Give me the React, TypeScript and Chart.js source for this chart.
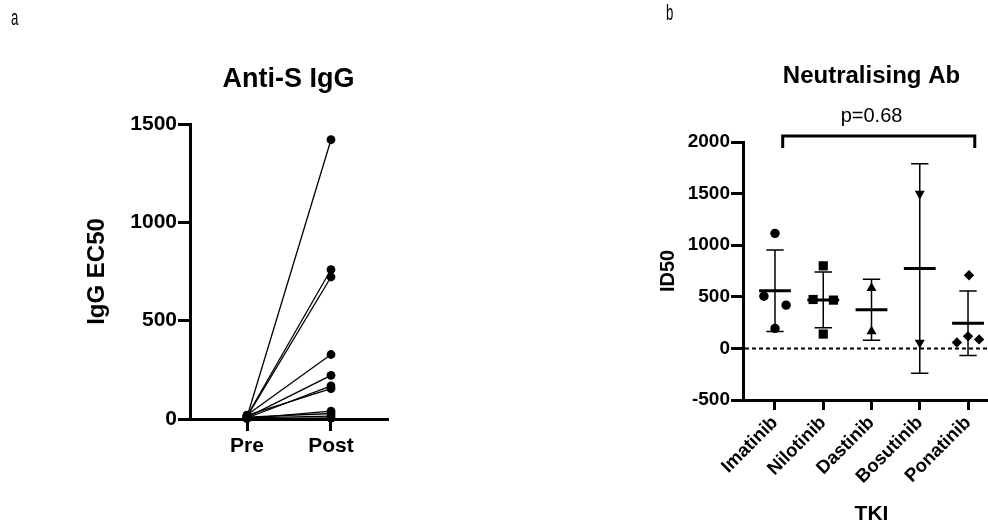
import { useEffect, useRef } from 'react';
import { Chart, registerables } from 'chart.js';

Chart.register(...registerables);

const FONT = "'Liberation Sans', Arial, Helvetica, sans-serif";

// ---- Panel a: Anti-S IgG ----
const timepoints = ['Pre', 'Post'];
const preIgG = [10, 15, 12, 20, 8, 5, 18, 3, 10, 6, 2];
const postIgG = [1420, 760, 722, 328, 222, 168, 155, 40, 28, 15, 5];

// ---- Panel b: Neutralising Ab ----
const tkis = ['Imatinib', 'Nilotinib', 'Dastinib', 'Bosutinib', 'Ponatinib'];
const imatinibID50 = [1115, 506, 419, 194];
const nilotinibID50 = [800, 474, 468, 139];
const dastinibID50 = [585, 165];
const bosutinibID50 = [1500, 55];
const ponatinibID50 = [709, 117, 87, 58];
const id50Mean = [558, 470, 375, 775, 243];
const id50SD = [395, 270, 295, 1015, 312];
const pValueText = 'p=0.68';

const WIDE = 1010;

export default function App() {
  const refA = useRef<HTMLCanvasElement | null>(null);
  const refB = useRef<HTMLCanvasElement | null>(null);

  useEffect(() => {
    const black = '#000';
    const tickFont = (size: number) => ({ family: FONT, size, weight: 'bold' as const });

    const panelLetter = (ctx: CanvasRenderingContext2D, letter: string, x: number, y: number) => {
      ctx.save();
      ctx.translate(x, y);
      ctx.scale(0.6, 1);
      ctx.font = `22px ${FONT}`;
      ctx.textAlign = 'left';
      ctx.textBaseline = 'alphabetic';
      ctx.fillStyle = black;
      ctx.fillText(letter, 0, 0);
      ctx.restore();
    };

    // ---------- Chart A ----------
    const dsA = preIgG.map((p, i) => ({
      data: [
        { x: 0, y: p },
        { x: 1, y: postIgG[i] },
      ],
      showLine: true,
      borderColor: black,
      borderWidth: 1.3,
      pointRadius: 4.4,
      pointBackgroundColor: black,
      pointBorderWidth: 0,
      clip: false as const,
    }));

    const pluginA = {
      id: 'panelA',
      afterDraw(chart: any) {
        const { ctx, chartArea } = chart;
        ctx.save();
        ctx.fillStyle = black;
        ctx.textAlign = 'center';
        ctx.textBaseline = 'alphabetic';
        ctx.font = `bold 27px ${FONT}`;
        ctx.fillText('Anti-S IgG', (chartArea.left + chartArea.right) / 2, 87);
        ctx.save();
        ctx.translate(104, (chartArea.top + chartArea.bottom) / 2);
        ctx.rotate(-Math.PI / 2);
        ctx.font = `bold 24px ${FONT}`;
        ctx.fillText('IgG EC50', 0, 0);
        ctx.restore();
        ctx.restore();
        panelLetter(ctx, 'a', 11, 25);
      },
    };

    const chartA = new Chart(refA.current as HTMLCanvasElement, {
      type: 'scatter',
      data: { datasets: dsA as any },
      options: {
        animation: false,
        responsive: false,
        layout: { padding: { left: 120, right: 601, top: 124, bottom: 56 } },
        plugins: { legend: { display: false }, tooltip: { enabled: false } },
        scales: {
          x: {
            type: 'linear',
            min: -0.679,
            max: 1.667,
            afterBuildTicks: (s: any) => {
              s.ticks = timepoints.map((_, i) => ({ value: i }));
            },
            afterFit: (s: any) => {
              s.height = 50;
              s.paddingLeft = 0;
              s.paddingRight = 0;
            },
            ticks: {
              autoSkip: false,
              maxRotation: 0,
              padding: 3,
              color: black,
              font: tickFont(21),
              callback: (v: any) => timepoints[v as number] ?? '',
            },
            grid: { drawOnChartArea: false, drawTicks: true, tickLength: 12, color: black, lineWidth: 3 },
            border: { display: true, color: black, width: 3 },
          },
          y: {
            min: 0,
            max: 1500,
            afterFit: (s: any) => {
              s.width = 70;
              s.paddingTop = 0;
              s.paddingBottom = 0;
            },
            ticks: {
              stepSize: 500,
              padding: 1,
              color: black,
              font: tickFont(21),
              callback: (v: any) => String(v),
            },
            grid: { drawOnChartArea: false, drawTicks: true, tickLength: 12, color: black, lineWidth: 3 },
            border: { display: true, color: black, width: 3 },
          },
        },
      },
      plugins: [pluginA],
    });

    // ---------- Chart B ----------
    const groups = [imatinibID50, nilotinibID50, dastinibID50, bosutinibID50, ponatinibID50];
    const spread = [
      [0, -0.23, 0.23, 0],
      [0, -0.21, 0.21, 0],
      [0, 0],
      [0, 0],
      [0.02, 0, 0.23, -0.23],
    ];
    const marker = [
      { style: 'circle', r: 4.7, rot: 0 },
      { style: 'rect', r: 6.5, rot: 0 },
      { style: 'triangle', r: 5.8, rot: 0 },
      { style: 'triangle', r: 5.8, rot: 180 },
      { style: 'rectRot', r: 5.2, rot: 0 },
    ];
    const pointSets = groups.map((vals, i) => ({
      data: vals.map((v, j) => ({ x: i + spread[i][j], y: v })),
      showLine: false,
      pointStyle: marker[i].style,
      pointRadius: marker[i].r,
      pointRotation: marker[i].rot,
      pointBackgroundColor: black,
      pointBorderWidth: 0,
      clip: false as const,
    }));
    const seg = (pts: { x: number; y: number | null }[], width: number) => ({
      data: pts,
      showLine: true,
      spanGaps: false,
      pointRadius: 0,
      borderColor: black,
      borderWidth: width,
      clip: false as const,
    });
    const meanPts = tkis.flatMap((_, i) => [
      { x: i - 0.33, y: id50Mean[i] },
      { x: i + 0.33, y: id50Mean[i] },
      { x: i + 0.5, y: null },
    ]);
    const errPts = tkis.flatMap((_, i) => [
      { x: i, y: id50Mean[i] - id50SD[i] },
      { x: i, y: id50Mean[i] + id50SD[i] },
      { x: i + 0.5, y: null },
    ]);
    const capPts = tkis.flatMap((_, i) => [
      { x: i - 0.18, y: id50Mean[i] + id50SD[i] },
      { x: i + 0.18, y: id50Mean[i] + id50SD[i] },
      { x: i + 0.4, y: null },
      { x: i - 0.18, y: id50Mean[i] - id50SD[i] },
      { x: i + 0.18, y: id50Mean[i] - id50SD[i] },
      { x: i + 0.5, y: null },
    ]);

    const pluginB = {
      id: 'panelB',
      beforeDatasetsDraw(chart: any) {
        const { ctx, chartArea, scales } = chart;
        const y0 = scales.y.getPixelForValue(0);
        ctx.save();
        ctx.strokeStyle = black;
        ctx.lineWidth = 2;
        ctx.setLineDash([4, 3]);
        ctx.beginPath();
        ctx.moveTo(chartArea.left + 2, y0);
        ctx.lineTo(chartArea.right, y0);
        ctx.stroke();
        ctx.restore();
      },
      afterDraw(chart: any) {
        const { ctx, chartArea, scales } = chart;
        const { x, y } = scales;
        const cx = x.getPixelForValue(2);
        ctx.save();
        ctx.fillStyle = black;
        ctx.strokeStyle = black;
        ctx.textAlign = 'center';
        ctx.textBaseline = 'alphabetic';
        ctx.font = `bold 24px ${FONT}`;
        ctx.fillText('Neutralising Ab', cx, 83);
        ctx.font = `20px ${FONT}`;
        ctx.fillText(pValueText, cx, 122);
        ctx.font = `bold 21px ${FONT}`;
        ctx.fillText('TKI', cx, 520);
        // bracket
        const x1 = x.getPixelForValue(0.16);
        const x2 = x.getPixelForValue(4.14);
        const yt = y.getPixelForValue(2058);
        const ye = y.getPixelForValue(1942);
        ctx.lineWidth = 3;
        ctx.lineJoin = 'miter';
        ctx.beginPath();
        ctx.moveTo(x1, ye);
        ctx.lineTo(x1, yt);
        ctx.lineTo(x2, yt);
        ctx.lineTo(x2, ye);
        ctx.stroke();
        // y title
        ctx.save();
        ctx.translate(674, (chartArea.top + chartArea.bottom) / 2);
        ctx.rotate(-Math.PI / 2);
        ctx.font = `bold 20px ${FONT}`;
        ctx.fillText('ID50', 0, 0);
        ctx.restore();
        ctx.restore();
        panelLetter(ctx, 'b', 666, 20);
      },
    };

    const chartB = new Chart(refB.current as HTMLCanvasElement, {
      type: 'scatter',
      data: {
        datasets: [
          seg(errPts, 1.5),
          seg(capPts, 1.5),
          seg(meanPts, 3),
          ...pointSets,
        ] as any,
      },
      options: {
        animation: false,
        responsive: false,
        layout: { padding: { left: 673, right: WIDE - 988, top: 142, bottom: 25 } },
        plugins: { legend: { display: false }, tooltip: { enabled: false } },
        scales: {
          x: {
            type: 'linear',
            min: -0.663,
            max: 4.414,
            afterBuildTicks: (s: any) => {
              s.ticks = tkis.map((_, i) => ({ value: i }));
            },
            afterFit: (s: any) => {
              s.height = 100;
              s.paddingLeft = 0;
              s.paddingRight = 0;
            },
            ticks: {
              autoSkip: false,
              minRotation: 45,
              maxRotation: 45,
              padding: 2,
              color: black,
              font: tickFont(18.5),
              callback: (v: any) => tkis[v as number] ?? '',
            },
            grid: { drawOnChartArea: false, drawTicks: true, tickLength: 10, color: black, lineWidth: 3 },
            border: { display: true, color: black, width: 3 },
          },
          y: {
            min: -500,
            max: 2000,
            afterFit: (s: any) => {
              s.width = 70;
              s.paddingTop = 0;
              s.paddingBottom = 0;
            },
            ticks: {
              stepSize: 500,
              padding: 1,
              color: black,
              font: tickFont(19),
              callback: (v: any) => String(v),
            },
            grid: { drawOnChartArea: false, drawTicks: true, tickLength: 12, color: black, lineWidth: 3 },
            border: { display: true, color: black, width: 3 },
          },
        },
      },
      plugins: [pluginB],
    });

    return () => {
      chartA.destroy();
      chartB.destroy();
    };
  }, []);

  const canvasStyle = (w: number): React.CSSProperties => ({ position: 'absolute', left: 0, top: 0, width: w, height: 525 });
  return (
    <div style={{ position: 'absolute', left: 0, top: 0, width: 988, height: 525, overflow: 'hidden', background: '#fff' }}>
      <canvas ref={refA} width={988} height={525} style={canvasStyle(988)} />
      <canvas ref={refB} width={WIDE} height={525} style={canvasStyle(WIDE)} />
    </div>
  );
}
